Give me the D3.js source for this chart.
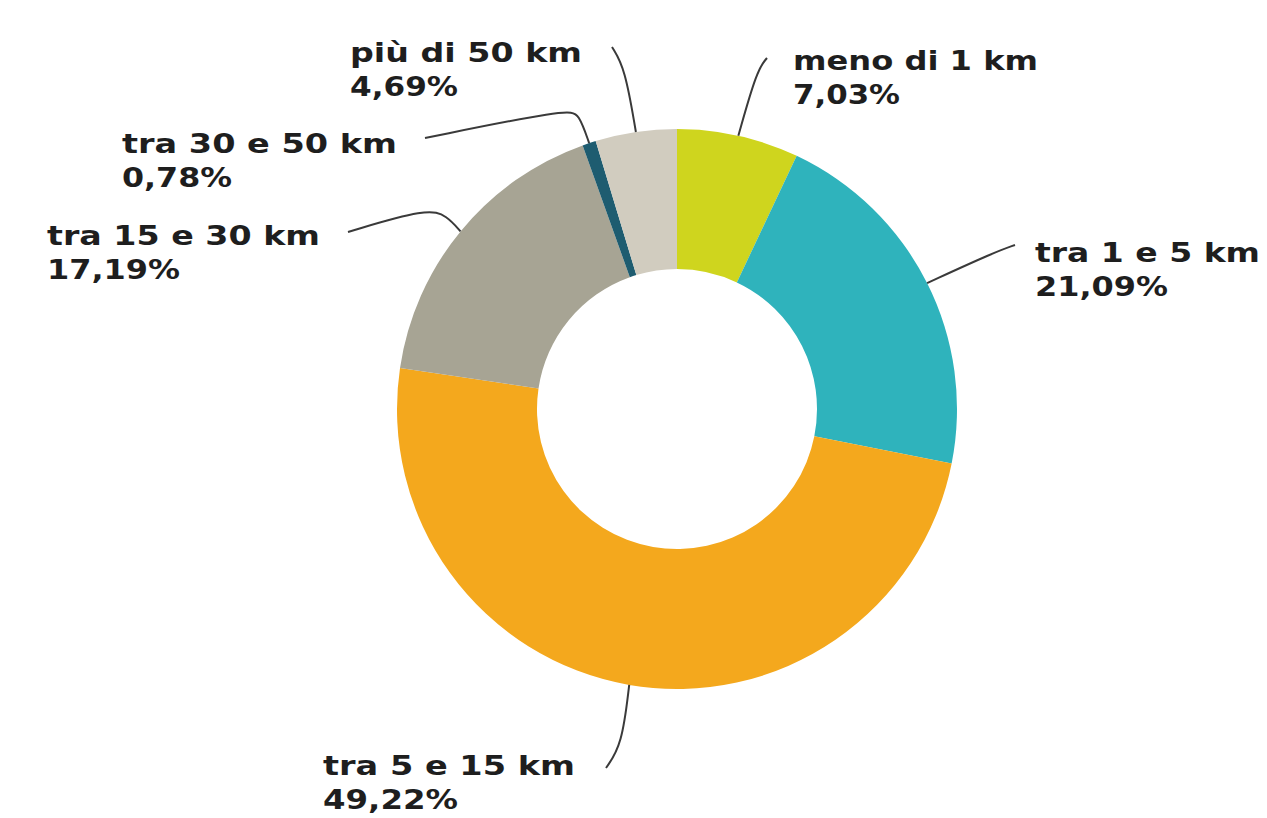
<!DOCTYPE html>
<html>
<head>
<meta charset="utf-8">
<script src="https://cdn.jsdelivr.net/npm/d3@7"></script>
<style>
  html, body { margin: 0; padding: 0; background: #ffffff; }
  svg { display: block; }
  .lbl { font-family: "DejaVu Sans", Verdana, sans-serif; font-weight: bold; font-size: 26px; fill: #1e1e1e; }
</style>
</head>
<body>
<svg id="chart" width="1267" height="818"></svg>
<script>
// ---- data ----
const categories = ["meno di 1 km", "tra 1 e 5 km", "tra 5 e 15 km", "tra 15 e 30 km", "tra 30 e 50 km", "più di 50 km"];
const values = [7.03, 21.09, 49.22, 17.19, 0.78, 4.69];
const valueLabels = ["7,03%", "21,09%", "49,22%", "17,19%", "0,78%", "4,69%"];
const colors = ["#cfd51e", "#2fb3bc", "#f4a81d", "#a7a494", "#1e5c70", "#d1ccbf"];

// ---- layout (label placement, leader-line bends) ----
const cx = 677, cy = 409, outerR = 280, innerR = 140;
const labelLayout = [
  { x: 793, y: 70,  w1: 245, w2: 107, bends: [[757, 70], [767, 58]] },
  { x: 1035, y: 262, w1: 225, w2: 133, bends: [[995, 252], [1015, 245]] },
  { x: 323, y: 775, w1: 252, w2: 135, bends: [[622, 745], [606, 768]] },
  { x: 47,  y: 245, w1: 273, w2: 133, bends: [[447, 216], [428, 208], [348, 232]] },
  { x: 122, y: 153, w1: 275, w2: 110, bends: [[579, 114], [568, 109], [425, 138]] },
  { x: 350, y: 62,  w1: 232, w2: 108, bends: [[625, 68], [612, 47]] }
];
const lineGap = 34;

const data = categories.map((c, i) => ({ cat: c, value: values[i], label: valueLabels[i], color: colors[i], layout: labelLayout[i] }));

const svg = d3.select("#chart");
const g = svg.append("g").attr("transform", `translate(${cx},${cy})`);

const pie = d3.pie().sort(null).value(d => d.value);
const arc = d3.arc().innerRadius(innerR).outerRadius(outerR);
const arcs = pie(data);

g.selectAll("path.slice")
  .data(arcs)
  .enter().append("path")
  .attr("class", "slice")
  .attr("d", arc)
  .attr("fill", d => d.data.color);

// leader lines
const line = d3.line().curve(d3.curveBasis);
arcs.forEach(a => {
  const mid = (a.startAngle + a.endAngle) / 2;
  const sx = cx + outerR * Math.sin(mid);
  const sy = cy - outerR * Math.cos(mid);
  const pts = [[sx, sy], [sx, sy]].concat(a.data.layout.bends);
  const last = a.data.layout.bends[a.data.layout.bends.length - 1];
  pts.push(last);
  svg.append("path")
    .attr("d", line(pts))
    .attr("fill", "none")
    .attr("stroke", "#3a3a3a")
    .attr("stroke-width", 2);
});

// labels
arcs.forEach(a => {
  const L = a.data.layout;
  svg.append("text").attr("class", "lbl")
    .attr("x", L.x).attr("y", L.y)
    .attr("textLength", L.w1).attr("lengthAdjust", "spacingAndGlyphs")
    .text(a.data.cat);
  svg.append("text").attr("class", "lbl")
    .attr("x", L.x).attr("y", L.y + lineGap)
    .attr("textLength", L.w2).attr("lengthAdjust", "spacingAndGlyphs")
    .text(a.data.label);
});
</script>
</body>
</html>
